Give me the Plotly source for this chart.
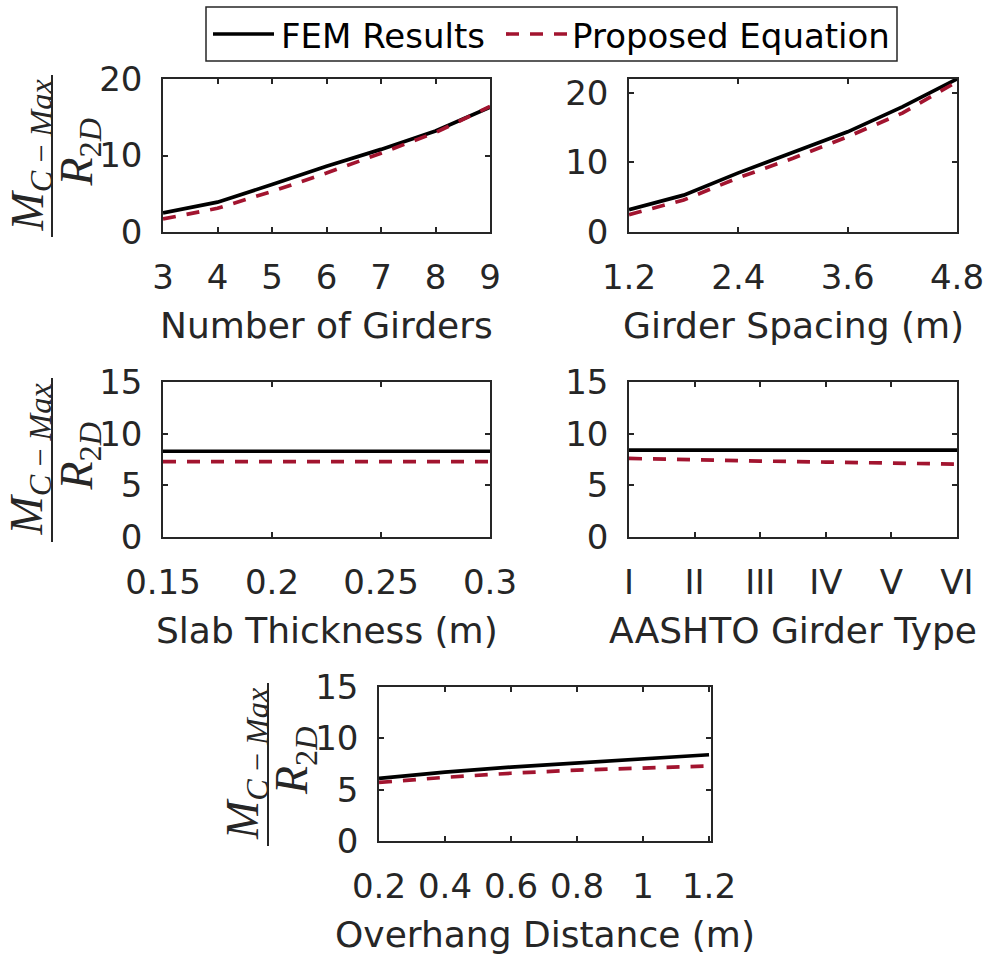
import plotly.graph_objects as go

W, H = 997, 962

# ---------------- data ----------------
girders = [3, 4, 5, 6, 7, 8, 9]
fem_girders = [2.5, 3.9, 6.2, 8.6, 10.8, 13.2, 16.3]
eq_girders = [1.7, 3.1, 5.3, 7.7, 10.3, 13.0, 16.4]

spacing = [1.2, 1.8, 2.4, 3.0, 3.6, 4.2, 4.8]
fem_spacing = [3.2, 5.3, 8.5, 11.4, 14.4, 18.0, 22.0]
eq_spacing = [2.5, 4.6, 7.8, 10.6, 13.7, 17.1, 21.6]

slab = [0.15, 0.2, 0.25, 0.3]
fem_slab = [8.3, 8.3, 8.3, 8.3]
eq_slab = [7.3, 7.3, 7.3, 7.3]

girder_types = ["I", "II", "III", "IV", "V", "VI"]
fem_type = [8.4, 8.4, 8.4, 8.4, 8.4, 8.4]
eq_type = [7.6, 7.45, 7.35, 7.25, 7.15, 7.05]

overhang = [0.2, 0.4, 0.6, 0.8, 1.0, 1.2]
fem_overhang = [6.1, 6.7, 7.2, 7.6, 8.0, 8.4]
eq_overhang = [5.7, 6.2, 6.6, 6.9, 7.1, 7.3]

x_titles = ["Number of Girders", "Girder Spacing (m)", "Slab Thickness (m)",
            "AASHTO Girder Type", "Overhang Distance (m)"]
series_names = ["FEM Results", "Proposed Equation"]

# ---------------- style ----------------
AX = "#262626"
RED = "#A2142F"
SANS = "DejaVu Sans"
SERIF = "Liberation Serif"
TICK_FS = 34
TITLE_FS = 36
LEG_FS = 34
FRAC_FS = 46


def px(x):
    return x / W


def py(y):
    return 1 - y / H


# box pixel geometry: (left, top, right, bottom)
panels = [
    dict(x=girders, fem=fem_girders, eq=eq_girders, box=(163, 79, 490, 232),
         xr=[3, 9], xt=dict(tickvals=[3, 4, 5, 6, 7, 8, 9]),
         yr=[0, 20], yt=[0, 10, 20], frac=True),
    dict(x=spacing, fem=fem_spacing, eq=eq_spacing, box=(629, 79, 957, 232),
         xr=[1.2, 4.8], xt=dict(tickvals=[1.2, 2.4, 3.6, 4.8], ticktext=["1.2", "2.4", "3.6", "4.8"]),
         yr=[0, 22], yt=[0, 10, 20], frac=False),
    dict(x=slab, fem=fem_slab, eq=eq_slab, box=(163, 382, 490, 537),
         xr=[0.15, 0.3], xt=dict(tickvals=[0.15, 0.2, 0.25, 0.3], ticktext=["0.15", "0.2", "0.25", "0.3"]),
         yr=[0, 15], yt=[0, 5, 10, 15], frac=True),
    dict(x=girder_types, fem=fem_type, eq=eq_type, box=(629, 382, 957, 537),
         xr=[0, 5], xt=dict(), cat=True,
         yr=[0, 15], yt=[0, 5, 10, 15], frac=False),
    dict(x=overhang, fem=fem_overhang, eq=eq_overhang, box=(379, 687, 711, 841),
         xr=[0.2, 1.206], xt=dict(tickvals=[0.2, 0.4, 0.6, 0.8, 1.0, 1.2], ticktext=["0.2", "0.4", "0.6", "0.8", "1", "1.2"]),
         yr=[0, 15], yt=[0, 5, 10, 15], frac=True),
]

fig = go.Figure()
annotations = []
shapes = []
layout = dict(
    template="none",
    width=W, height=H, margin=dict(l=0, r=0, t=0, b=0, pad=0, autoexpand=False),
    paper_bgcolor="white", plot_bgcolor="white", showlegend=False,
)

for i, p in enumerate(panels):
    n = "" if i == 0 else str(i + 1)
    xa, ya = "x" + n, "y" + n
    fig.add_trace(go.Scatter(x=p["x"], y=p["fem"], mode="lines", name=series_names[0],
                             line=dict(color="black", width=3.7), xaxis=xa, yaxis=ya))
    fig.add_trace(go.Scatter(x=p["x"], y=p["eq"], mode="lines", name=series_names[1],
                             line=dict(color=RED, width=3.7, dash="13px,11px"), xaxis=xa, yaxis=ya))
    l, t, r, b = p["box"]
    common = dict(showline=True, linecolor=AX, linewidth=1.5, mirror="ticks",
                  ticks="inside", ticklen=5, tickwidth=1.5, tickcolor=AX,
                  showgrid=False, zeroline=False, automargin=False,
                  tickfont=dict(family=SANS, size=TICK_FS, color=AX))
    xax = dict(common, domain=[px(l), px(r)], anchor=ya, range=p["xr"], ticklabelstandoff=14, **p["xt"])
    if p.get("cat"):
        xax["type"] = "category"
    yax = dict(common, domain=[py(b), py(t)], anchor=xa, range=p["yr"], tickvals=p["yt"],
               ticklabelstandoff=12)
    layout["xaxis" + n] = xax
    layout["yaxis" + n] = yax

    # x-axis title
    annotations.append(dict(text=x_titles[i], xref="paper", yref="paper",
                            x=px((l + r) / 2), y=py(b + 93), xanchor="center", yanchor="middle",
                            showarrow=False, font=dict(family=SANS, size=TITLE_FS, color=AX)))
    if p["frac"]:
        cy = (t + b) / 2
        lx = l - 111
        shapes.append(dict(type="line", xref="paper", yref="paper",
                           x0=px(lx), x1=px(lx), y0=py(t - 4), y1=py(b + 5),
                           line=dict(color=AX, width=2)))
        annotations.append(dict(text="<i>M</i><sub><i>C</i> − <i>Max</i></sub>", xref="paper", yref="paper",
                                x=px(lx - 22), y=py(cy), xanchor="center", yanchor="middle", textangle=-90,
                                showarrow=False, font=dict(family=SERIF, size=FRAC_FS, color=AX)))
        annotations.append(dict(text="<i>R</i><sub>2<i>D</i></sub>", xref="paper", yref="paper",
                                x=px(lx + 27), y=py(cy - 3), xanchor="center", yanchor="middle", textangle=-90,
                                showarrow=False, font=dict(family=SERIF, size=FRAC_FS, color=AX)))

# legend (drawn manually to match original sample lengths)
shapes.append(dict(type="rect", xref="paper", yref="paper", x0=px(206), x1=px(897), y0=py(61), y1=py(7),
                   line=dict(color=AX, width=1.5), fillcolor="white"))
shapes.append(dict(type="line", xref="paper", yref="paper", x0=px(213), x1=px(274), y0=py(34), y1=py(34),
                   line=dict(color="black", width=3.7)))
shapes.append(dict(type="line", xref="paper", yref="paper", x0=px(506), x1=px(568), y0=py(34), y1=py(34),
                   line=dict(color=RED, width=3.7, dash="13px,11px")))
annotations.append(dict(text=series_names[0], xref="paper", yref="paper", x=px(279), y=py(36),
                        xanchor="left", yanchor="middle", showarrow=False,
                        font=dict(family=SANS, size=LEG_FS, color="black")))
annotations.append(dict(text=series_names[1], xref="paper", yref="paper", x=px(570), y=py(36),
                        xanchor="left", yanchor="middle", showarrow=False,
                        font=dict(family=SANS, size=LEG_FS, color="black")))

layout["annotations"] = annotations
layout["shapes"] = shapes
fig.update_layout(**layout)
fig.write_html("out.html")
